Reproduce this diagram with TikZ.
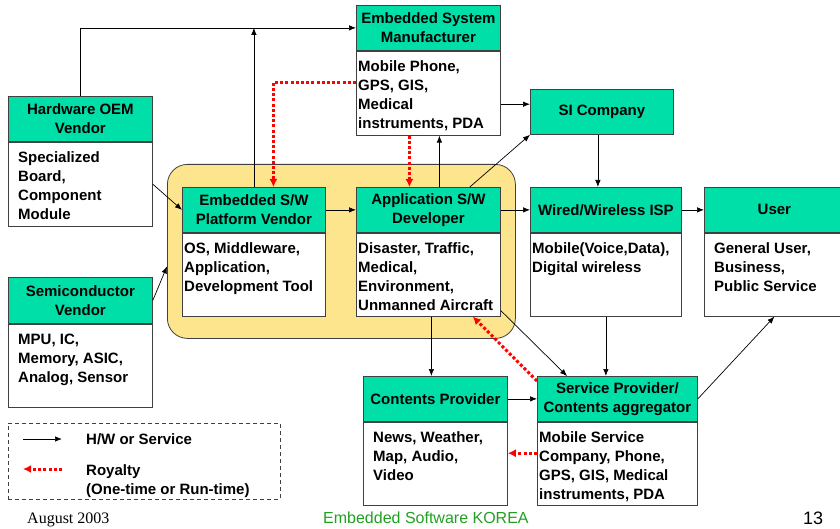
\documentclass[tikz,border=0pt]{standalone}
\usepackage{fontspec}
\setmainfont{Liberation Sans}
\newfontfamily\serifft{Liberation Serif}
\usetikzlibrary{arrows.meta}

\definecolor{hdgreen}{RGB}{0,223,168}
\definecolor{coreyellow}{RGB}{253,229,142}
\definecolor{edge}{RGB}{64,64,64}
\definecolor{ftgreen}{RGB}{34,160,34}
\newcommand{\boxfont}{\fontsize{15}{19}\selectfont\bfseries}

\tikzset{
  head/.style={draw=edge, fill=hdgreen, line width=0.8pt, inner sep=0pt, anchor=north west, align=center, font=\boxfont},
  body/.style={draw=edge, fill=white, line width=0.8pt, inner sep=0pt, anchor=north west},
  txt/.style={inner sep=0pt, anchor=north west, align=left, font=\boxfont},
  flow/.style={-{Latex[length=7pt,width=5.5pt]}, line width=0.7pt},
  roy/.style={-{Latex[length=8pt,width=8pt]}, red, line width=3pt, dash pattern=on 3pt off 2.2pt},
}

\begin{document}
\begin{tikzpicture}[x=1pt,y=-1pt]
\useasboundingbox (0,0) rectangle (840,529);

% yellow core
\node[draw=edge, fill=coreyellow, line width=0.8pt, rounded corners=20pt, inner sep=0pt, anchor=north west,
      minimum width=348pt, minimum height=174pt] (core) at (167,164) {};

% top one
\node[head, minimum width=144pt, minimum height=45pt] (esmH) at (356,5) {Embedded System\\Manufacturer};
\node[body, minimum width=144pt, minimum height=84pt] (esmB) at (esmH.south west) {};
\node[txt] (esmT) at ([xshift=2pt,yshift=-10pt]esmB.north west) {Mobile Phone,\\GPS, GIS,\\Medical\\instruments, PDA};

% left ones
\node[head, minimum width=144pt, minimum height=45pt] (hwH) at (8,96) {Hardware OEM\\Vendor};
\node[body, minimum width=144pt, minimum height=84pt] (hwB) at (hwH.south west) {};
\node[txt] (hwT) at ([xshift=10pt,yshift=-10pt]hwB.north west) {Specialized\\Board,\\Component\\Module};

\node[head, minimum width=144pt, minimum height=46pt] (semiH) at (8,277) {Semiconductor\\Vendor};
\node[body, minimum width=144pt, minimum height=83pt] (semiB) at (semiH.south west) {};
\node[txt] (semiT) at ([xshift=10pt,yshift=-10pt]semiB.north west) {MPU, IC,\\Memory, ASIC,\\Analog, Sensor};

% middle ones
\node[head, minimum width=143pt, minimum height=45pt] (platH) at (182,187) {Embedded S/W\\Platform Vendor};
\node[body, minimum width=143pt, minimum height=83pt] (platB) at (platH.south west) {};
\node[txt] (platT) at ([xshift=2pt,yshift=-10pt]platB.north west) {OS, Middleware,\\Application,\\Development Tool};

\node[head, minimum width=144pt, minimum height=45pt] (appH) at (356,187) {Application S/W\\Developer};
\node[body, minimum width=144pt, minimum height=83pt] (appB) at (appH.south west) {};
\node[txt] (appT) at ([xshift=2pt,yshift=-10pt]appB.north west) {Disaster, Traffic,\\Medical,\\Environment,\\Unmanned Aircraft};

% right ones
\node[head, minimum width=143pt, minimum height=45pt] (siH) at (530,89) {SI Company};

\node[head, minimum width=151pt, minimum height=45pt] (ispH) at (530,187) {Wired/Wireless ISP};
\node[body, minimum width=151pt, minimum height=83pt] (ispB) at (ispH.south west) {};
\node[txt] (ispT) at ([xshift=2pt,yshift=-10pt]ispB.north west) {Mobile(Voice,Data),\\Digital wireless};

\node[head, minimum width=140pt, minimum height=45pt] (userH) at (704,187) {User};
\node[body, minimum width=140pt, minimum height=83pt] (userB) at (userH.south west) {};
\node[txt] (userT) at ([xshift=10pt,yshift=-10pt]userB.north west) {General User,\\Business,\\Public Service};

% bottom ones
\node[head, minimum width=144pt, minimum height=45pt] (cpH) at (363,376) {Contents Provider};
\node[body, minimum width=144pt, minimum height=83pt] (cpB) at (cpH.south west) {};
\node[txt] (cpT) at ([xshift=10pt,yshift=-10pt]cpB.north west) {News, Weather,\\Map, Audio,\\Video};

\node[head, minimum width=160pt, minimum height=45pt] (spH) at (537,376) {Service Provider/\\Contents aggregator};
\node[body, minimum width=160pt, minimum height=83pt] (spB) at (spH.south west) {};
\node[txt] (spT) at ([xshift=2pt,yshift=-10pt]spB.north west) {Mobile Service\\Company, Phone,\\GPS, GIS, Medical\\instruments, PDA};

% H/W or Service
\draw[flow] (hwH.north) |- (esmH.west);
\draw[flow] (platH.north) -- (platH.north |- esmH.west);
\draw[flow] (hwB.east) -- (platH.west);
\draw[flow] (semiH.east) -- ([yshift=-15pt]core.west);
\draw[flow] (platH.east) -- (appH.west);
\draw[flow] ([xshift=11pt]appH.north) -- ([xshift=11pt]esmB.south);
\draw[flow] ([xshift=-31pt]appH.north east) -- (siH.south west);
\draw[flow] ([yshift=-11pt]esmB.east) -- ([yshift=-11pt]esmB.east -| siH.west);
\draw[flow] ([xshift=-4pt]siH.south) -- ([xshift=-4pt]siH.south |- ispH.north);
\draw[flow] (appH.east) -- (ispH.west);
\draw[flow] (ispH.east) -- (userH.west);
\draw[flow] ([xshift=3pt]appB.south) -- ([xshift=3pt]appB.south |- cpH.north);
\draw[flow] ([yshift=6pt]appB.south east) -- ([xshift=30pt]spH.north west);
\draw[flow] (ispB.south) -- (ispB.south |- spH.north);
\draw[flow] (spH.east) -- (userB.south);
\draw[flow] (cpH.east) -- (spH.west);

% Royalty
\draw[roy] ([yshift=11pt]esmB.west) -| ([xshift=19.5pt]platH.north);
\draw[roy] ([xshift=-19pt]esmB.south) -- ([xshift=-19pt]appH.north);
\draw[roy] ([yshift=-5pt]spH.north west) -- ([xshift=-28pt]appB.south east);
\draw[roy] ([yshift=10.5pt]spB.west) -- ([yshift=10.5pt]spB.west -| cpB.east);

% legend
\node[draw=edge, dash pattern=on 4pt off 3pt, line width=0.7pt, inner sep=0pt, anchor=north west,
      minimum width=272pt, minimum height=76pt] (legend) at (8,423) {};
\coordinate (lgA1) at (23,439);
\coordinate (lgA2) at (62,439);
\coordinate (lgR1) at (62,469);
\coordinate (lgR2) at (23,469);
\draw[flow] (lgA1) -- (lgA2);
\draw[roy] (lgR1) -- (lgR2);
\node[txt, anchor=west] (lgT1) at (86,439) {H/W or Service};
\node[txt] (lgT2) at (86,464) {Royalty\\(One-time or Run-time)};

% footer
\node[inner sep=0pt, anchor=base west, font=\serifft\fontsize{16}{19}\selectfont] (date) at (27,523) {August 2003};
\node[inner sep=0pt, anchor=base west, text=ftgreen, font=\fontsize{16}{19}\selectfont] (brand) at (323,523) {Embedded Software KOREA};
\node[inner sep=0pt, anchor=base west, font=\fontsize{18}{21}\selectfont] (page) at (803,524) {13};

\end{tikzpicture}
\end{document}
